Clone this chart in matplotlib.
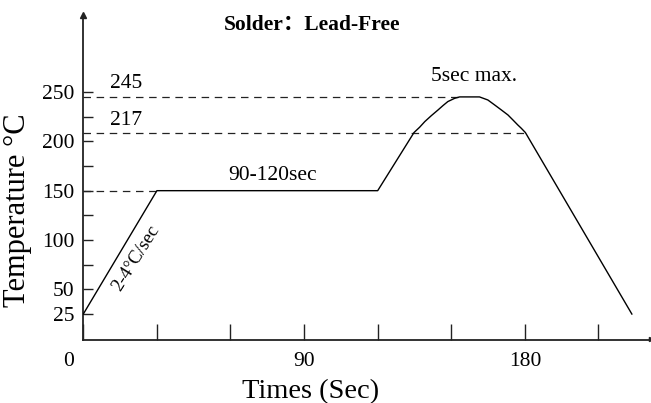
import matplotlib
matplotlib.use("Agg")
import matplotlib.pyplot as plt
from matplotlib.transforms import ScaledTranslation

plt.rcParams['font.family'] = ['Liberation Serif', 'DejaVu Serif']

# ---- data ----
profile_t = [0, 30, 120, 134.8, 137.1, 139.2, 141.9, 144.6, 146.6, 148.6, 151.4, 153.4,
             161.5, 164.9, 167.7, 170.4, 173.1, 175.1, 177.1, 178.5, 180.2, 223.6]
profile_T = [25, 150, 150, 208.9, 214.3, 220.0, 226.1, 231.8, 236.2, 240.3, 243.6, 245,
             245, 241.9, 236.8, 231.8, 226.7, 221.7, 216.6, 213.3, 208.9, 25]

level_T = [150, 208, 245]
level_end_t = [30, 180.2, 153.4]
level_text = ["", "217", "245"]

xticks = [0, 30, 60, 90, 120, 150, 180, 210]
xtick_labels = ["0", "", "", "90", "", "", "180", ""]
yticks = [25, 50, 75, 100, 125, 150, 175, 200, 225, 250]
ytick_labels = ["25", "50", "", "100", "", "150", "", "200", "", "250"]

W, H = 651, 403
fig = plt.figure(figsize=(W / 100, H / 100), dpi=100)
left = 83.3 / W
bottom = (H - 340) / H
top = (H - 15) / H
ax = fig.add_axes([left, bottom, 1 - left - 0.5 / W, top - bottom])
ax.set_xlim(0, 231.2)
ax.set_ylim(-1.3, 328)

# dashed reference levels
for T, te in zip(level_T, level_end_t):
    ax.plot([0, te], [T, T], color='#222222', lw=0.9, dashes=(6, 4.5), zorder=2)

# profile
ax.plot(profile_t, profile_T, color='black', lw=1.0, zorder=3, solid_joinstyle='round')

# spines / ticks
for s in ['top', 'right']:
    ax.spines[s].set_visible(False)
for s in ['left', 'bottom']:
    ax.spines[s].set_linewidth(1.3)
    ax.spines[s].set_color('#222222')

ax.set_xticks(xticks)
ax.set_xticklabels(xtick_labels)
ax.set_yticks(yticks)
ax.set_yticklabels(ytick_labels)
ax.tick_params(axis='x', direction='in', length=11.5, width=1.0, pad=8.3,
               labelsize=15.5, color='#222222')
ax.tick_params(axis='y', direction='in', length=7.2, width=1.0, pad=6.3,
               labelsize=15.5, color='#222222')
# shift "0" label to the left
lbl0 = ax.get_xticklabels()[0]
lbl0.set_transform(lbl0.get_transform() + ScaledTranslation(-0.145, 0, fig.dpi_scale_trans))

# axis arrow heads
ax.plot(0, 1, marker='^', color='#222222', markersize=4,
        transform=ax.get_xaxis_transform(), clip_on=False)
ax.plot(1, 0, marker='>', color='#222222', markersize=3,
        transform=ax.get_yaxis_transform(), clip_on=False)

# annotations
for T, txt in zip(level_T, level_text):
    if txt:
        ax.text(11, T + 13.5, txt, fontsize=15.5, ha='left', va='center')
ax.text(77, 165.7, "90-120sec", fontsize=15.5, ha='center', va='center')
ax.text(159.1, 265.9, "5sec max.", fontsize=15.5, ha='center', va='center')
ax.text(21.6, 82, "2-4°C/sec", fontsize=13.5, ha='center', va='center', rotation=58)

# titles / axis labels
fig.text(312 / W, 1 - 25 / H, "Solder：Lead-Free", fontsize=15.5, fontweight='bold',
         ha='center', va='center', family=['Liberation Serif', 'Noto Sans CJK SC'])
fig.text(311 / W, 1 - 398 / H, "Times (Sec)", fontsize=20.5, ha='center', va='baseline')
fig.text(18 / W, 1 - 210 / H, "Temperature °C", fontsize=22, ha='center', va='center',
         rotation=90)

fig.savefig("out.png", dpi=100)
